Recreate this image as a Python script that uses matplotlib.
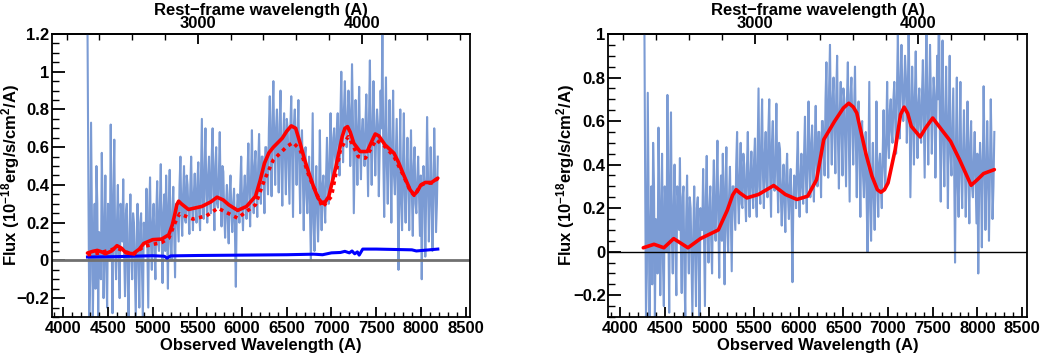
#!/usr/bin/env python

"""
plot.py - observed spectrum with model fits, observed and rest-frame axes
"""

import numpy as np
import matplotlib
matplotlib.use("Agg")
import matplotlib.pyplot as plt
from matplotlib.ticker import MultipleLocator, FixedLocator, FuncFormatter

plt.rcParams['font.family'] = ['Liberation Sans', 'DejaVu Sans']
plt.rcParams['font.weight'] = 'bold'
plt.rcParams['mathtext.fontset'] = 'custom'
plt.rcParams['mathtext.bf'] = 'Liberation Sans:bold'
plt.rcParams['mathtext.rm'] = 'Liberation Sans:bold'
plt.rcParams['mathtext.default'] = 'bf'

REDSHIFT = 0.835

# observed spectrum: samples at 4270, 4290, ... 8190 A
flux = [
    1.25, -0.30, 0.73, -0.30, 0.30, 0.50, -0.30, 0.10, 0.57, -0.20,
    0.45, -0.25, 0.20, 0.72, -0.28, 0.64, -0.10, 0.40, -0.20, 0.25,
    0.43, -0.19, 0.30, -0.30, 0.35, -0.10, 0.20, -0.30, 0.30, -0.25,
    0.25, -0.30, 0.10, 0.38, -0.25, 0.44, -0.05, 0.30, -0.10, 0.42,
    0.05, 0.51, -0.12, 0.35, 0.45, -0.15, 0.48, 0.00, 0.39, -0.09,
    0.30, 0.10, 0.55, 0.13, 0.50, 0.20, 0.40, 0.14, 0.55, 0.16,
    0.46, 0.20, 0.52, 0.16, 0.75, 0.22, 0.70, 0.20, 0.55, 0.25,
    0.70, 0.16, 0.60, 0.28, 0.68, 0.18, 0.47, 0.12, 0.40, 0.09,
    0.45, 0.15, 0.38, -0.14, 0.35, 0.20, 0.55, 0.16, 0.45, 0.22,
    0.62, 0.18, 0.69, 0.25, 0.58, 0.23, 0.67, 0.30, 0.55, 0.25,
    0.60, 0.35, 0.87, 0.34, 0.95, 0.40, 0.80, 0.36, 0.90, 0.29,
    0.78, 0.35, 0.70, 0.30, 0.87, 0.23, 0.80, 0.40, 0.85, 0.25,
    0.69, 0.16, 0.60, 0.25, 0.55, 0.00, 0.78, 0.05, 0.50, 0.10,
    0.69, 0.16, 0.45, 0.20, 0.65, 0.30, 0.78, 0.43, 0.70, 0.50,
    0.78, 0.45, 1.00, 0.52, 0.95, 0.60, 0.90, 0.50, 1.04, 0.25,
    0.85, 0.40, 0.92, 0.43, 0.75, 0.50, 0.88, 0.34, 1.06, 0.40,
    0.95, 0.45, 0.80, 0.34, 0.90, 1.25, 0.23, 0.97, 0.30, 0.85,
    0.20, 0.90, 0.35, 0.75, -0.05, 0.80, 0.16, 0.78, 0.20, 0.65,
    0.16, 0.69, 0.13, 0.60, 0.25, 0.55, 0.13, -0.10, 0.50, 0.02,
    0.76, 0.10, 0.60, 0.05, 0.70, 0.15, 0.55,
]
# samples in between: 4280, 4300, ... 8180 A
fluxMid = [
    0.40, -0.10, 0.20, 0.05, -0.15, 0.30, 0.15, -0.10, 0.25, 0.10,
    -0.05, 0.30, 0.00, 0.15, 0.35, 0.05, 0.20, 0.00, 0.30, 0.10,
    0.05, 0.25, -0.10, 0.15, 0.05, 0.25, -0.05, 0.10, 0.00, 0.20,
    -0.05, 0.20, 0.10, 0.05, 0.25, 0.10, 0.20, 0.05, 0.25, 0.10,
    0.30, 0.15, 0.25, 0.05, 0.20, 0.30, 0.10, 0.25, 0.15, 0.30,
    0.20, 0.40, 0.25, 0.35, 0.22, 0.45, 0.25, 0.38, 0.30, 0.35,
    0.30, 0.42, 0.25, 0.45, 0.30, 0.50, 0.35, 0.45, 0.32, 0.55,
    0.35, 0.50, 0.30, 0.45, 0.35, 0.50, 0.25, 0.30, 0.22, 0.35,
    0.25, 0.30, 0.15, 0.25, 0.30, 0.40, 0.28, 0.35, 0.30, 0.45,
    0.35, 0.45, 0.40, 0.50, 0.35, 0.50, 0.40, 0.55, 0.45, 0.60,
    0.45, 0.70, 0.55, 0.75, 0.60, 0.70, 0.55, 0.72, 0.50, 0.65,
    0.55, 0.75, 0.50, 0.70, 0.55, 0.72, 0.60, 0.65, 0.50, 0.62,
    0.45, 0.55, 0.35, 0.45, 0.25, 0.40, 0.20, 0.35, 0.25, 0.30,
    0.35, 0.40, 0.30, 0.45, 0.40, 0.55, 0.50, 0.65, 0.55, 0.70,
    0.60, 0.75, 0.70, 0.80, 0.75, 0.72, 0.80, 0.65, 0.75, 0.55,
    0.65, 0.70, 0.60, 0.68, 0.58, 0.72, 0.60, 0.75, 0.65, 0.70,
    0.70, 0.65, 0.72, 0.60, 0.70, 0.55, 0.68, 0.50, 0.62, 0.55,
    0.60, 0.45, 0.55, 0.40, 0.48, 0.30, 0.50, 0.35, 0.45, 0.40,
    0.45, 0.35, 0.50, 0.30, 0.42, 0.35, 0.45, 0.30, 0.40, 0.35,
    0.45, 0.30, 0.40, 0.35, 0.45, 0.30,
]

# left panel: full model (solid), second model (dotted), noise (blue)
leftModelWave = [4270, 4330, 4380, 4430, 4470, 4540, 4600, 4650, 4700, 4780,
                 4850, 4900, 5000, 5100, 5180, 5220, 5250, 5270, 5290, 5320,
                 5400, 5550, 5650, 5720, 5790, 5850, 5950, 6050, 6150, 6200,
                 6250, 6300, 6350, 6450, 6500, 6550, 6600, 6650, 6700, 6750,
                 6800, 6850, 6890, 6930, 6970, 7050, 7120, 7150, 7180, 7210,
                 7250, 7320, 7400, 7450, 7490, 7530, 7600, 7700, 7750, 7800,
                 7880, 7925, 7960, 8000, 8050, 8120, 8190]
leftModel = [0.039, 0.048, 0.053, 0.045, 0.035, 0.050, 0.078, 0.065, 0.040, 0.035,
             0.060, 0.090, 0.110, 0.113, 0.136, 0.190, 0.250, 0.295, 0.314, 0.300,
             0.270, 0.286, 0.310, 0.335, 0.320, 0.295, 0.265, 0.286, 0.340, 0.420,
             0.515, 0.570, 0.600, 0.648, 0.685, 0.713, 0.700, 0.620, 0.533, 0.460,
             0.390, 0.330, 0.307, 0.310, 0.339, 0.497, 0.656, 0.700, 0.709, 0.680,
             0.621, 0.577, 0.577, 0.630, 0.670, 0.660, 0.612, 0.568, 0.520, 0.462,
             0.374, 0.348, 0.365, 0.400, 0.413, 0.413, 0.436]

dottedWave = [4270, 4400, 4600, 4780, 4900, 5100, 5180, 5250, 5300, 5450,
              5600, 5730, 5950, 6150, 6250, 6350, 6500, 6570, 6650, 6750,
              6900, 7000, 7100, 7150, 7190, 7230, 7300, 7380, 7500, 7600,
              7700, 7800, 7880, 7925, 8000, 8050, 8120, 8190]
dottedModel = [0.030, 0.039, 0.065, 0.030, 0.074, 0.095, 0.118, 0.200, 0.247, 0.219,
               0.236, 0.277, 0.224, 0.295, 0.427, 0.533, 0.603, 0.625, 0.586, 0.445,
               0.282, 0.339, 0.586, 0.630, 0.656, 0.620, 0.550, 0.542, 0.639, 0.603,
               0.550, 0.455, 0.370, 0.345, 0.398, 0.410, 0.410, 0.434]

noiseWave = [4270, 4600, 5000, 5130, 5160, 5200, 5500, 6000, 6500, 6800,
             6900, 7000, 7100, 7150, 7200, 7230, 7260, 7290, 7310, 7350,
             7500, 7700, 7900, 7950, 8190]
noise = [0.018, 0.020, 0.025, 0.022, 0.012, 0.024, 0.026, 0.028, 0.030, 0.033,
         0.030, 0.040, 0.042, 0.048, 0.040, 0.050, 0.035, 0.045, 0.028, 0.060,
         0.060, 0.058, 0.056, 0.050, 0.060]

# right panel: model
rightModelWave = [4260, 4380, 4490, 4600, 4760, 4900, 5000, 5100, 5200, 5260,
                  5300, 5340, 5420, 5550, 5720, 5850, 5980, 6100, 6200, 6280,
                  6400, 6500, 6560, 6610, 6650, 6750, 6820, 6880, 6920, 6960,
                  7000, 7080, 7140, 7180, 7220, 7260, 7360, 7420, 7500, 7600,
                  7700, 7800, 7930, 8000, 8070, 8190]
rightModel = [0.018, 0.034, 0.018, 0.060, 0.018, 0.060, 0.080, 0.100, 0.190, 0.260,
              0.285, 0.270, 0.247, 0.263, 0.304, 0.263, 0.240, 0.255, 0.331, 0.515,
              0.598, 0.660, 0.682, 0.665, 0.637, 0.453, 0.347, 0.285, 0.273, 0.285,
              0.316, 0.469, 0.630, 0.664, 0.635, 0.576, 0.527, 0.568, 0.614, 0.560,
              0.507, 0.423, 0.305, 0.331, 0.359, 0.377]

SPEC_COLOR = '#7b9bd4'
FS = 12


def fmtTick(v, pos):
    s = '%g' % round(v, 3)
    return s.replace('-', '\u2212')


def setupAxes(ax, ymin, ymax, ylabelX):
    ax.set_xlim(3870, 8555)
    ax.set_ylim(ymin, ymax)
    ax.xaxis.set_major_locator(MultipleLocator(500))
    ax.xaxis.set_minor_locator(MultipleLocator(100))
    ax.yaxis.set_major_locator(MultipleLocator(0.2))
    ax.yaxis.set_minor_locator(MultipleLocator(0.05))
    ax.yaxis.set_major_formatter(FuncFormatter(fmtTick))
    ax.tick_params(axis='x', which='major', direction='in', length=7, width=1.3,
                   labelsize=FS, pad=3, top=False)
    ax.tick_params(axis='x', which='minor', direction='in', length=3.5, width=1.0, top=False)
    ax.tick_params(axis='y', which='major', direction='in', length=9.5, width=1.3,
                   labelsize=FS, pad=2, right=False)
    ax.tick_params(axis='y', which='minor', direction='in', length=5, width=1.0, right=False)
    for sp in ax.spines.values():
        sp.set_linewidth(1.3)
    ax.set_xlabel('Observed Wavelength (A)', fontsize=FS, fontweight='bold', labelpad=1)
    ax.set_ylabel('Flux (10$^{-18}$erg/s/cm$^2$/A)', fontsize=FS, fontweight='bold')
    # coordinate marks the right-hand edge of the rotated label
    ax.yaxis.set_label_coords(ylabelX, 0.5)

    top = ax.secondary_xaxis('top', functions=(lambda x: x / (1 + REDSHIFT),
                                                lambda x: x * (1 + REDSHIFT)))
    top.xaxis.set_major_locator(FixedLocator([3000, 4000]))
    top.xaxis.set_minor_locator(MultipleLocator(200))
    top.tick_params(axis='x', which='major', direction='in', length=7, width=1.3,
                    labelsize=FS, pad=2)
    top.tick_params(axis='x', which='minor', direction='in', length=4, width=1.0)
    top.spines['top'].set_linewidth(1.3)
    top.set_xlabel('Rest\u2212frame wavelength (A)', fontsize=FS, fontweight='bold', labelpad=1)


def plotChart():
    # interleave the two sets of spectrum samples onto a 10 A grid
    wave = np.arange(4270, 8191, 10)
    spec = np.empty(len(wave))
    spec[0::2] = flux
    spec[1::2] = fluxMid

    fig = plt.figure(figsize=(10.41, 3.54), dpi=100)

    ax1 = fig.add_axes([0.0497, 0.1045, 0.4022, 0.7995])
    ax1.plot(wave, spec, color=SPEC_COLOR, lw=1.5, zorder=1)
    ax1.axhline(0, color='#707070', lw=2.0, zorder=2)
    ax1.plot(noiseWave, noise, color='#0000ff', lw=2.2, zorder=3)
    ax1.plot(dottedWave, dottedModel, color='#ff0000', lw=2.6, ls=(0, (1, 1.2)), zorder=4)
    ax1.plot(leftModelWave, leftModel, color='#ff0000', lw=2.6, zorder=5,
             solid_joinstyle='round', solid_capstyle='round')
    setupAxes(ax1, -0.3, 1.2, -0.071)

    ax2 = fig.add_axes([0.5845, 0.1045, 0.4020, 0.7995])
    ax2.plot(wave, spec, color=SPEC_COLOR, lw=1.5, zorder=1)
    ax2.axhline(0, color='black', lw=1.0, zorder=2)
    ax2.plot(rightModelWave, rightModel, color='#ff0000', lw=2.6, zorder=4,
             solid_joinstyle='round', solid_capstyle='round')
    setupAxes(ax2, -0.3, 1.0, -0.076)

    fig.savefig('out.png', dpi=100)


if __name__ == "__main__":
    plotChart()
